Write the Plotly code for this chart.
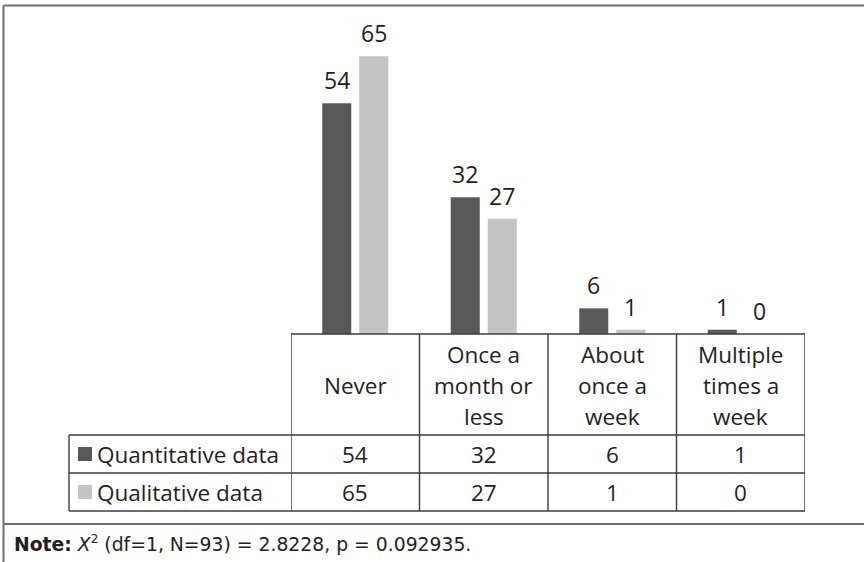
import plotly.graph_objects as go

# Response categories (shown as the header row of the data table)
categories = ["Never", "Once a month or less", "About once a week", "Multiple times a week"]
header_lines = [["Never"], ["Once a", "month or", "less"], ["About", "once a", "week"],
                ["Multiple", "times a", "week"]]

series_names = ["Quantitative data", "Qualitative data"]
quantitative = [54, 32, 6, 1]
qualitative = [65, 27, 1, 0]

note_text = ("<b>Note:</b> <i>X</i><sup><span style='font-size:12px'>2</span></sup>"
             " (df=1, N=93) = 2.8228, p = 0.092935.")

W, H = 864, 562
DARK = "#58595b"
LIGHT = "#c3c4c6"
TEXT = "#231f20"
FONT = "Open Sans"
FS = 22.5


def px(x):
    return x / W


def py(y):
    return 1 - y / H


# Pixel layout of the chart block
plot_left, plot_right = 291, 805
plot_bottom, plot_top = 334, 35
header_bottom = 435
row_bottoms = [473, 511]
label_left = 69
note_line = 524
line_gap = 31

fig = go.Figure()
for name, vals, col in [(series_names[0], quantitative, DARK), (series_names[1], qualitative, LIGHT)]:
    fig.add_trace(go.Bar(
        x=categories, y=vals, name=name,
        marker=dict(color=col, line=dict(width=0)),
        showlegend=False, hoverinfo="skip",
    ))

shapes = []
annotations = []

# Value labels above each bar
offsets = [-18.5, 18.5]
for vals, off in zip([quantitative, qualitative], offsets):
    for cat, v in zip(categories, vals):
        annotations.append(dict(
            x=cat, y=v, xref="x", yref="y", text=str(v), showarrow=False,
            xshift=off, yshift=23, yanchor="middle",
            font=dict(family=FONT, size=23, color=TEXT),
        ))

line_style = dict(color="#3c3c3c", width=1.4)

# Table: vertical column dividers across header and data rows
for i in range(len(categories) + 1):
    shapes.append(dict(type="line", xref="x", yref="paper",
                       x0=i - 0.5, x1=i - 0.5, y0=py(plot_bottom), y1=py(row_bottoms[-1]),
                       line=line_style))
# Label column left edge
shapes.append(dict(type="line", xref="paper", yref="paper",
                   x0=px(label_left), x1=px(label_left), y0=py(header_bottom), y1=py(row_bottoms[-1]),
                   line=line_style))
# Horizontal rules
shapes.append(dict(type="line", xref="paper", yref="paper",
                   x0=px(plot_left), x1=px(plot_right), y0=py(plot_bottom), y1=py(plot_bottom),
                   line=line_style))
for yy in [header_bottom] + row_bottoms:
    shapes.append(dict(type="line", xref="paper", yref="paper",
                       x0=px(label_left), x1=px(plot_right), y0=py(yy), y1=py(yy),
                       line=line_style))

# Header texts, one annotation per wrapped line
header_mid = (plot_bottom + header_bottom) / 2 + 1
for cat, lines in zip(categories, header_lines):
    n = len(lines)
    for k, ln in enumerate(lines):
        yc = header_mid + (k - (n - 1) / 2) * line_gap
        annotations.append(dict(
            x=cat, xref="x", y=py(yc), yref="paper",
            text=ln, showarrow=False, yanchor="middle",
            font=dict(family=FONT, size=FS, color=TEXT),
        ))

# Data rows: legend key, series name, values
row_tops = [header_bottom] + row_bottoms[:-1]
for r, (name, vals, col) in enumerate([(series_names[0], quantitative, DARK),
                                         (series_names[1], qualitative, LIGHT)]):
    yc = (row_tops[r] + row_bottoms[r]) / 2
    shapes.append(dict(type="rect", xref="paper", yref="paper",
                       x0=px(78), x1=px(92), y0=py(yc + 7), y1=py(yc - 7),
                       fillcolor=col, line=dict(width=0)))
    annotations.append(dict(
        x=px(95), y=py(yc), xref="paper", yref="paper", text=name, showarrow=False,
        xanchor="left", yanchor="middle", font=dict(family=FONT, size=FS, color=TEXT),
    ))
    for cat, v in zip(categories, vals):
        annotations.append(dict(
            x=cat, xref="x", y=py(yc), yref="paper", text=str(v), showarrow=False,
            yanchor="middle", font=dict(family=FONT, size=FS, color=TEXT),
        ))

# Outer frame and note separator
frame = dict(color="#6e6e6e", width=2)
shapes.append(dict(type="line", xref="paper", yref="paper", x0=px(3.5), x1=1, y0=py(5.5), y1=py(5.5), line=frame))
shapes.append(dict(type="line", xref="paper", yref="paper", x0=px(3.5), x1=px(3.5), y0=py(5.5), y1=0, line=frame))
shapes.append(dict(type="line", xref="paper", yref="paper", x0=px(3.5), x1=1, y0=py(note_line), y1=py(note_line), line=frame))

annotations.append(dict(
    x=px(12), y=py(543), xref="paper", yref="paper", text=note_text, showarrow=False,
    xanchor="left", yanchor="middle", font=dict(family="DejaVu Sans", size=18.8, color=TEXT),
))

fig.update_layout(
    width=W, height=H,
    margin=dict(l=0, r=0, t=0, b=0),
    paper_bgcolor="white", plot_bgcolor="white",
    barmode="group", bargap=0.424, bargroupgap=0.216,
    xaxis=dict(domain=[px(plot_left), px(plot_right)], range=[-0.5, 3.5],
               showticklabels=False, showgrid=False, zeroline=False, showline=False, ticks=""),
    yaxis=dict(domain=[py(plot_bottom), py(plot_top)], range=[0, 70],
               showticklabels=False, showgrid=False, zeroline=False, showline=False, ticks=""),
    shapes=shapes, annotations=annotations,
)

fig.write_html("out.html")
